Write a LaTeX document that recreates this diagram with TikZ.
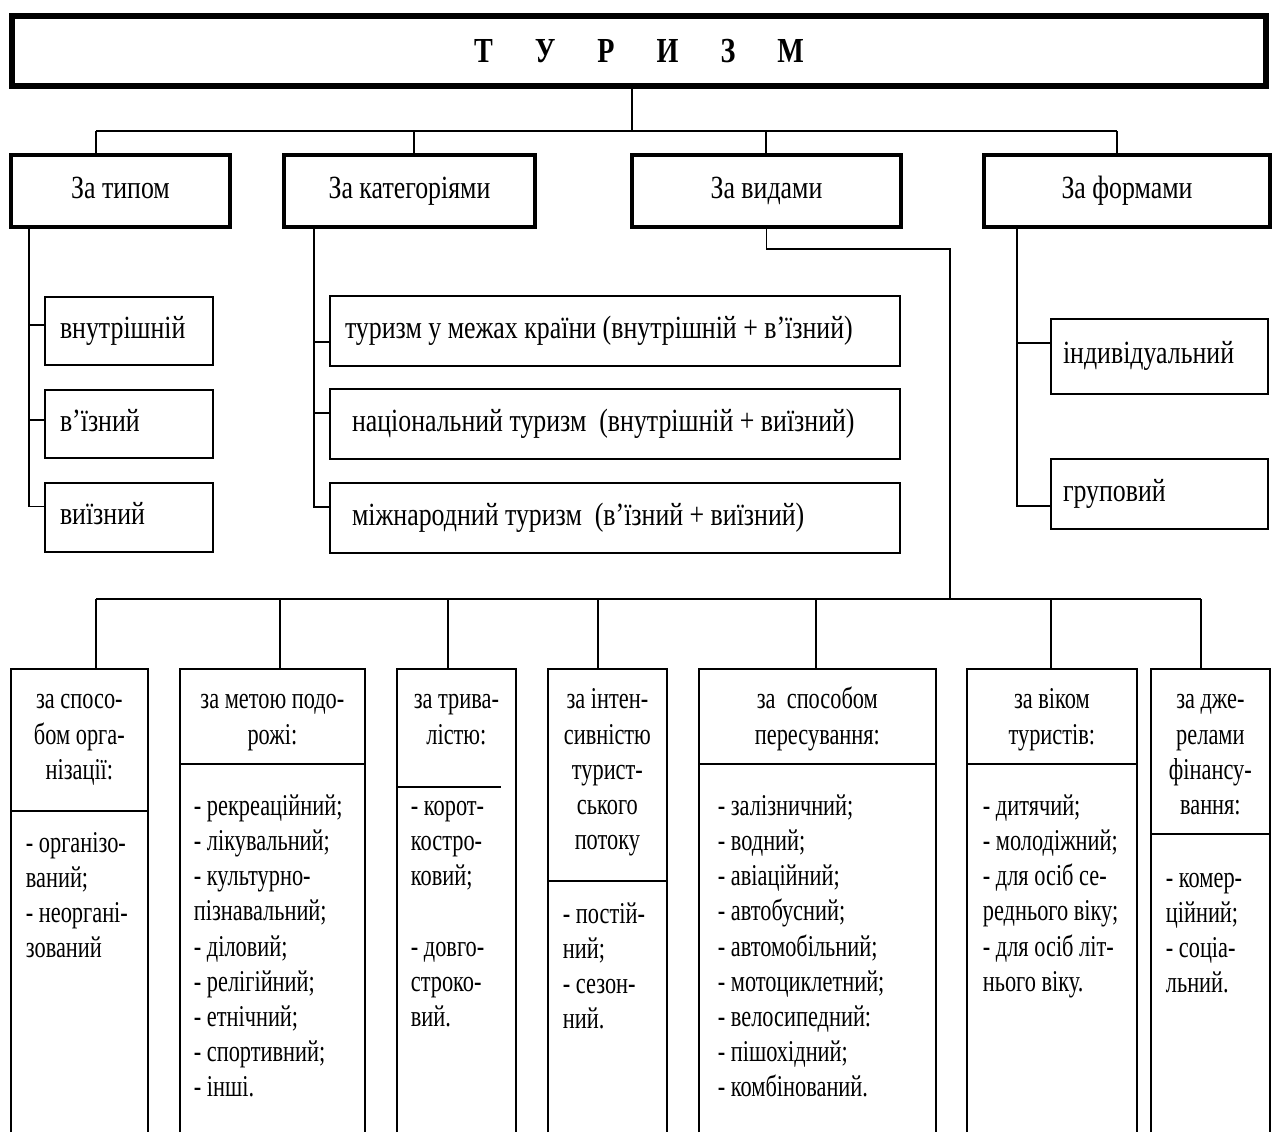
\documentclass[tikz,border=0pt]{standalone}
\usepackage{fontspec}
\setmainfont{Liberation Serif}[FakeStretch=0.8]
\newfontfamily\narrowfont{Liberation Serif}[FakeStretch=0.74]
\usetikzlibrary{positioning}

\newcommand\boxfont{\fontsize{9.2}{10.1}\selectfont}
\newcommand\colfont{\narrowfont\fontsize{8.6}{10}\selectfont}

\tikzset{
  big/.style={draw, line width=1.7pt, minimum width=125.4mm, minimum height=6.95mm,
    font=\fontsize{10}{12}\selectfont\bfseries},
  kind/.style={draw, line width=1pt, minimum height=7.2mm, font=\boxfont,
    text height=2.1mm, text depth=.7mm},
  item/.style={draw, line width=.45pt, align=flush left, inner xsep=1.5mm, font=\boxfont,
    text height=2.1mm, text depth=.7mm},
  hd/.style={inner sep=0pt, anchor=north west},
  htxt/.style={inner sep=0pt, align=center, anchor=north, font=\colfont},
  txt/.style={inner sep=0pt, align=left, anchor=north west, font=\colfont}
}

\begin{document}
\begin{tikzpicture}[x=0.1mm, y=-0.1mm, line width=.5pt]
\useasboundingbox (0,0) rectangle (1278,1132);
\coordinate (bot) at (0,1132);

% top
\node[big] (tur) at (639,51) {Т\hspace{4.2mm}У\hspace{4.2mm}Р\hspace{4.2mm}И\hspace{4.2mm}З\hspace{4.2mm}М};

% second level
\node[kind, minimum width=21.9mm] (tip) at (120.5,191) {За типом};
\node[kind, minimum width=25.1mm] (kat) at (409.5,191) {За категоріями};
\node[kind, minimum width=26.9mm] (vyd) at (766.5,191) {За видами};
\node[kind, minimum width=28.6mm] (frm) at (1127,191) {За формами};

\coordinate (top) at (632,131);
\coordinate (b1) at (96,131);
\coordinate (b2) at (414,131);
\coordinate (b3) at (766,131);
\coordinate (b4) at (1117,131);
\draw (tur.south -| top) -- (top);
\draw (b1) -- (b4);
\foreach \c/\n in {b1/tip,b2/kat,b3/vyd,b4/frm}
  \draw (\c) -- (\c |- \n.north);

% za typom
\node[item, text width=13.8mm, minimum height=6.8mm] (vn) at (129,331) {внутрішній};
\node[item, text width=13.8mm, minimum height=6.8mm] (vi) at (129,424) {в’їзний};
\node[item, text width=13.8mm, minimum height=6.9mm] (vy) at (129,517.5) {виїзний};
\coordinate (tl) at (29,227);
\draw (tl) |- ([yshift=1.1mm]vy.west);
\foreach \n/\s in {vn/.6,vi/.4}
  \draw ([yshift=\s mm]\n.west) coordinate (p) -- (p -| tl);

% za katehoriiamy
\node[item, text width=54mm, minimum height=7mm] (k1) at (615,331) {туризм у межах країни (внутрішній + в’їзний)};
\node[item, text width=54mm, minimum height=7mm] (k2) at (615,424) {\hspace*{.7mm}національний туризм\ \ (внутрішній + виїзний)};
\node[item, text width=54mm, minimum height=7mm] (k3) at (615,518) {\hspace*{.7mm}міжнародний туризм\ \ (в’їзний + виїзний)};
\coordinate (kl) at (314,227);
\draw (kl) |- ([yshift=1.1mm]k3.west);
\foreach \n/\s in {k1/-1.1,k2/1.1}
  \draw ([yshift=\s mm]\n.west) coordinate (p) -- (p -| kl);

% za formamy
\node[item, text width=19.3mm, inner xsep=1.2mm, minimum height=7.5mm] (ind) at (1159.5,356.5) {індивідуальний};
\node[item, text width=19.3mm, inner xsep=1.2mm, minimum height=7mm] (grp) at (1159.5,494) {груповий};
\coordinate (fl) at (1017,227);
\draw (fl) |- ([yshift=-1.2mm]grp.west);
\draw ([yshift=1.35mm]ind.west) coordinate (p) -- (p -| fl);

% za vydamy
\coordinate (vc) at (950,249);
\coordinate (vb) at (950,599);
\draw (vyd.south) |- (vc) -- (vb);

\coordinate (d1) at (96,599);
\coordinate (d2) at (280,599);
\coordinate (d3) at (448,599);
\coordinate (d4) at (598,599);
\coordinate (d5) at (816,599);
\coordinate (d6) at (1051,599);
\coordinate (d7) at (1201,599);
\draw (d1) -- (d7);

% bottom columns
\foreach \n/\l/\w/\h/\s in {1/11/13.5/14/0, 2/180/18.3/9.3/0, 3/397/11.7/11.6/1.5,
    4/548/11.7/21/0, 5/699/23.5/9.3/0, 6/967/16.8/9.3/0, 7/1151/11.7/16.3/0} {
  \node[hd, minimum width=\w mm, minimum height=\h mm] (h\n) at (\l,669) {};
  \draw (h\n.south west |- bot) -- (h\n.north west) -- (h\n.north east) -- (h\n.north east |- bot);
  \draw (h\n.south west) -- ([xshift=-\s mm]h\n.south east);
  \draw (d\n) -- (d\n |- h\n.north);
}

\node[htxt] (t1) at ([yshift=-1.44mm]h1.north) {\strut за спосо-\\бом орга-\\нізації:};
\node[htxt] (t2) at ([yshift=-1.44mm]h2.north) {\strut за метою подо-\\рожі:};
\node[htxt] (t3) at ([yshift=-1.44mm]h3.north) {\strut за трива-\\лістю:};
\node[htxt] (t4) at ([yshift=-1.44mm]h4.north) {\strut за інтен-\\сивністю\\турист-\\ського\\потоку};
\node[htxt] (t5) at ([yshift=-1.44mm]h5.north) {\strut за\ \ способом\\пересування:};
\node[htxt] (t6) at ([yshift=-1.44mm]h6.north) {\strut за віком\\туристів:};
\node[htxt] (t7) at ([yshift=-1.44mm]h7.north) {\strut за дже-\\релами\\фінансу-\\вання:};

\node[txt] (l1) at (25,827) {\strut - організо-\\ваний;\\- неоргані-\\зований};
\node[txt] (l2) at (193,790) {\strut - рекреаційний;\\- лікувальний;\\- культурно-\\пізнавальний;\\- діловий;\\- релігійний;\\- етнічний;\\- спортивний;\\- інші.};
\node[txt] (l3) at (410,790) {\strut - корот-\\костро-\\ковий;\\[10pt]- довго-\\строко-\\вий.};
\node[txt] (l4) at (562,898) {\strut - постій-\\ний;\\- сезон-\\ний.};
\node[txt] (l5) at (717,790) {\strut - залізничний;\\- водний;\\- авіаційний;\\- автобусний;\\- автомобільний;\\- мотоциклетний;\\- велосипедний:\\- пішохідний;\\- комбінований.};
\node[txt] (l6) at (982,790) {\strut - дитячий;\\- молодіжний;\\- для осіб се-\\реднього віку;\\- для осіб літ-\\нього віку.};
\node[txt] (l7) at (1165,862) {\strut - комер-\\ційний;\\- соціа-\\льний.};
\end{tikzpicture}
\end{document}
